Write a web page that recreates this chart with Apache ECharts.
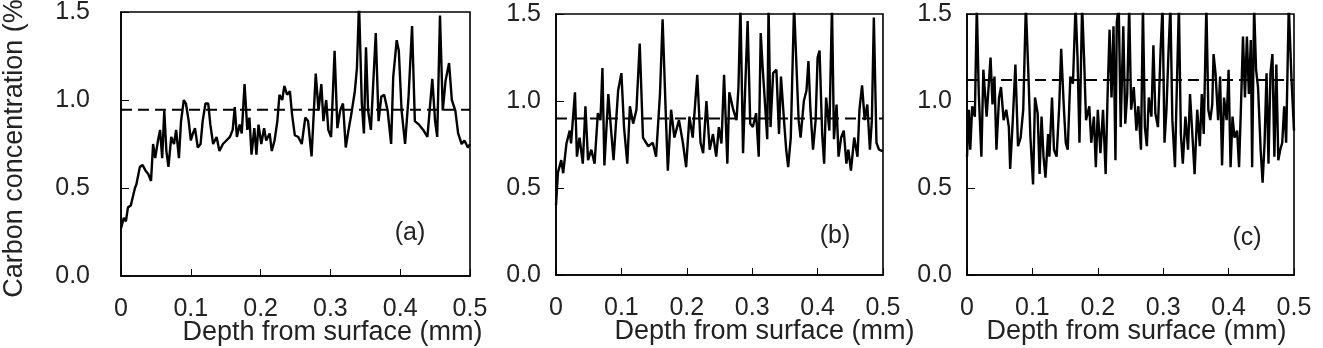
<!DOCTYPE html>
<html>
<head>
<meta charset="utf-8">
<script src="https://cdn.jsdelivr.net/npm/echarts@6/dist/echarts.min.js"></script>
<style>
  html, body { margin: 0; padding: 0; background: #fff; }
  #chart { width: 1323px; height: 348px; }
</style>
</head>
<body>
<div id="chart"></div>
<script>
// depth (mm), carbon (%)
var profileA = [
  [0,0.27],[0.004,0.33],[0.007,0.31],[0.010,0.39],[0.014,0.40],[0.017,0.45],[0.020,0.50],[0.022,0.52],
  [0.025,0.58],[0.027,0.62],[0.031,0.63],[0.035,0.60],[0.039,0.58],[0.043,0.54],[0.046,0.75],[0.049,0.67],
  [0.053,0.77],[0.056,0.83],[0.059,0.67],[0.062,0.94],[0.065,0.71],[0.068,0.62],[0.072,0.79],[0.076,0.75],
  [0.079,0.83],[0.083,0.67],[0.086,0.88],[0.090,1.00],[0.093,0.98],[0.097,0.88],[0.100,0.77],[0.103,0.81],
  [0.106,0.84],[0.110,0.73],[0.114,0.75],[0.117,0.88],[0.121,0.98],[0.125,0.98],[0.128,0.86],[0.132,0.75],
  [0.137,0.79],[0.141,0.71],[0.146,0.75],[0.151,0.77],[0.156,0.79],[0.160,0.83],[0.163,0.96],[0.166,0.79],
  [0.170,0.86],[0.173,0.81],[0.177,1.09],[0.181,0.83],[0.184,0.90],[0.187,0.69],[0.191,0.84],[0.194,0.69],
  [0.197,0.86],[0.201,0.75],[0.205,0.84],[0.208,0.77],[0.213,0.81],[0.216,0.71],[0.220,0.77],[0.224,0.88],
  [0.227,1.03],[0.231,1.00],[0.234,1.08],[0.238,1.03],[0.242,1.05],[0.245,0.92],[0.249,0.80],[0.254,0.79],
  [0.259,0.75],[0.264,0.90],[0.268,0.88],[0.273,0.68],[0.279,1.15],[0.283,0.94],[0.287,1.09],[0.290,0.88],
  [0.294,1.00],[0.297,0.83],[0.301,0.79],[0.306,1.28],[0.310,0.84],[0.314,0.94],[0.318,0.98],[0.322,0.73],
  [0.326,0.83],[0.330,0.92],[0.335,1.05],[0.338,1.18],[0.341,1.55],[0.345,0.98],[0.348,0.81],[0.351,1.30],
  [0.354,0.94],[0.358,0.83],[0.365,1.38],[0.369,0.88],[0.373,1.02],[0.377,1.03],[0.382,0.94],[0.387,0.75],
  [0.390,1.13],[0.395,1.34],[0.398,1.28],[0.402,0.94],[0.407,0.75],[0.412,1.02],[0.417,1.42],[0.421,0.88],
  [0.427,0.86],[0.433,0.83],[0.439,0.79],[0.446,1.12],[0.450,0.88],[0.453,0.79],[0.457,1.48],[0.461,0.94],
  [0.465,1.11],[0.470,1.21],[0.474,1.00],[0.479,0.94],[0.483,0.81],[0.488,0.75],[0.492,0.77],[0.497,0.73],
  [0.500,0.75]
];

var profileB = [
  [0,0.40],[0.003,0.59],[0.008,0.66],[0.011,0.585],[0.016,0.756],[0.021,0.83],[0.023,0.756],[0.029,1.05],
  [0.032,0.68],[0.036,0.79],[0.041,0.64],[0.045,0.97],[0.049,0.66],[0.054,0.72],[0.059,0.64],[0.064,0.93],
  [0.068,0.89],[0.071,1.19],[0.074,0.63],[0.080,1.04],[0.083,0.89],[0.088,0.66],[0.095,1.06],[0.100,1.16],
  [0.104,0.85],[0.109,0.64],[0.113,0.97],[0.118,0.87],[0.123,0.95],[0.128,1.33],[0.133,0.79],[0.141,0.74],
  [0.148,0.76],[0.153,0.68],[0.159,1.04],[0.163,1.47],[0.168,0.91],[0.171,0.60],[0.176,0.95],[0.181,0.79],
  [0.188,0.89],[0.194,0.76],[0.199,0.62],[0.204,0.91],[0.209,0.79],[0.216,1.15],[0.221,0.76],[0.225,0.70],
  [0.230,1.00],[0.235,0.72],[0.240,0.81],[0.245,0.68],[0.249,0.85],[0.253,0.756],[0.257,1.15],[0.262,0.64],
  [0.265,1.05],[0.271,0.95],[0.276,0.89],[0.279,1.08],[0.282,1.55],[0.286,0.70],[0.289,1.04],[0.293,1.46],
  [0.297,0.87],[0.301,0.85],[0.306,0.93],[0.310,0.68],[0.313,1.39],[0.316,1.19],[0.319,1.02],[0.323,0.78],
  [0.325,1.55],[0.328,0.85],[0.332,1.16],[0.337,1.18],[0.341,0.81],[0.344,1.14],[0.349,0.87],[0.352,0.72],
  [0.355,0.62],[0.359,0.79],[0.364,1.55],[0.367,1.55],[0.371,0.89],[0.374,0.79],[0.379,1.00],[0.383,1.06],
  [0.386,1.23],[0.389,0.95],[0.393,0.72],[0.397,0.89],[0.400,1.25],[0.403,1.29],[0.407,0.81],[0.410,0.64],
  [0.413,1.02],[0.418,0.83],[0.422,1.55],[0.425,0.78],[0.429,0.98],[0.432,0.68],[0.436,0.79],[0.440,0.83],
  [0.444,0.64],[0.447,0.72],[0.451,0.60],[0.456,0.79],[0.461,0.68],[0.464,0.95],[0.468,1.09],[0.472,0.89],
  [0.476,0.98],[0.480,0.72],[0.483,0.89],[0.486,1.48],[0.490,0.76],[0.494,0.72],[0.497,0.71],[0.500,0.71]
];

var profileC = [
  [0,0.68],[0.003,0.95],[0.005,0.72],[0.008,0.97],[0.012,0.91],[0.015,1.55],[0.018,1.04],[0.022,0.68],
  [0.025,1.18],[0.030,0.91],[0.033,1.08],[0.036,1.25],[0.039,0.98],[0.042,1.14],[0.045,0.72],[0.049,1.02],
  [0.052,1.08],[0.056,0.89],[0.060,0.95],[0.064,0.85],[0.066,0.61],[0.070,0.89],[0.074,1.21],[0.078,0.74],
  [0.082,0.79],[0.086,0.95],[0.090,1.55],[0.094,1.14],[0.097,0.79],[0.101,0.52],[0.104,1.02],[0.108,0.93],
  [0.111,0.58],[0.114,0.91],[0.117,0.68],[0.120,0.56],[0.124,0.81],[0.126,0.68],[0.130,1.02],[0.133,0.72],
  [0.137,0.68],[0.141,0.97],[0.144,1.30],[0.148,0.97],[0.151,0.76],[0.154,0.72],[0.158,1.14],[0.162,1.10],
  [0.166,1.55],[0.169,1.25],[0.172,0.76],[0.176,1.55],[0.179,1.25],[0.182,0.89],[0.187,0.97],[0.190,0.76],
  [0.194,0.91],[0.197,0.62],[0.200,0.95],[0.204,0.70],[0.208,0.95],[0.212,0.58],[0.215,1.04],[0.218,1.41],
  [0.221,1.02],[0.224,1.43],[0.227,0.66],[0.229,1.45],[0.232,1.55],[0.235,0.85],[0.239,1.43],[0.242,0.87],
  [0.245,1.04],[0.248,1.55],[0.251,0.95],[0.255,1.08],[0.259,0.83],[0.262,0.97],[0.266,0.72],[0.269,1.55],
  [0.272,0.85],[0.275,0.74],[0.278,1.02],[0.282,0.91],[0.285,1.32],[0.288,0.93],[0.292,0.85],[0.296,1.29],
  [0.299,1.55],[0.302,0.76],[0.305,0.95],[0.308,1.27],[0.311,1.55],[0.314,0.89],[0.318,0.62],[0.320,0.95],
  [0.324,1.55],[0.327,0.81],[0.330,0.64],[0.334,0.91],[0.338,0.72],[0.341,1.04],[0.345,0.78],[0.348,0.58],
  [0.352,0.95],[0.356,0.74],[0.359,1.04],[0.362,0.81],[0.366,1.55],[0.369,0.95],[0.372,0.89],[0.375,0.98],
  [0.377,1.27],[0.380,1.16],[0.384,0.89],[0.387,1.14],[0.390,0.63],[0.393,1.02],[0.397,0.89],[0.400,1.18],
  [0.403,0.62],[0.406,0.91],[0.409,0.79],[0.413,0.83],[0.416,0.62],[0.419,0.98],[0.422,1.37],[0.425,1.02],
  [0.428,1.37],[0.431,1.04],[0.434,1.35],[0.436,0.62],[0.439,1.55],[0.442,1.18],[0.445,1.08],[0.449,0.72],
  [0.452,0.53],[0.455,0.76],[0.458,1.16],[0.461,0.64],[0.464,1.16],[0.467,1.27],[0.470,0.68],[0.473,1.21],
  [0.476,0.66],[0.479,0.72],[0.482,0.76],[0.485,0.97],[0.488,0.76],[0.492,1.55],[0.496,1.14],[0.500,0.83]
];

// dashed reference level of each panel
var levels = [0.945, 0.90, 1.12];
var panelTags = ['(a)', '(b)', '(c)'];
var xTitle = 'Depth from surface (mm)';
var yTitle = 'Carbon concentration (%)';

var myChart = echarts.init(document.getElementById('chart'), null, { renderer: 'canvas' });

var FONT = '"Liberation Sans", Arial, sans-serif';
var TXT = '#222';

var grids = [
  { left: 121, top: 12, width: 349, height: 264 },
  { left: 556, top: 14, width: 327, height: 261 },
  { left: 967, top: 14, width: 327, height: 261 }
];
var yLabelMargin = [31, 15, 15];
var xNameShift = [37, 45, 6];
var tagPos = [[410, 233], [835, 236], [1247, 238]];

var xAxes = [], yAxes = [], series = [], texts = [];
var profiles = [profileA, profileB, profileC];

for (var i = 0; i < 3; i++) {
  grids[i].show = true;
  grids[i].borderColor = '#000';
  grids[i].borderWidth = 1.6;
  grids[i].containLabel = false;
  grids[i].outerBoundsMode = 'none';

  xAxes.push({
    type: 'value', gridIndex: i, min: 0, max: 0.5, interval: 0.1,
    name: xTitle, nameLocation: 'middle', nameGap: 43, nameMoveOverlap: false,
    nameTextStyle: { fontFamily: FONT, fontSize: 27, color: TXT, padding: [0, 0, 0, xNameShift[i] * 2] },
    axisLine: { show: true, lineStyle: { color: '#000', width: 1.6 } },
    axisTick: { show: true, inside: true, length: 7, lineStyle: { color: '#000', width: 1 } },
    axisLabel: { fontFamily: FONT, fontSize: 25, color: TXT, margin: 21 },
    splitLine: { show: false }
  });

  yAxes.push({
    type: 'value', gridIndex: i, min: 0, max: 1.5, interval: 0.5,
    name: i === 0 ? yTitle : '', nameLocation: 'middle', nameGap: 93, nameMoveOverlap: false,
    nameTextStyle: { fontFamily: FONT, fontSize: 27, color: TXT },
    axisLine: { show: true, lineStyle: { color: '#000', width: 1.6 } },
    axisTick: { show: true, inside: true, length: 8, lineStyle: { color: '#000', width: 1 } },
    axisLabel: {
      fontFamily: FONT, fontSize: 25, color: TXT, margin: yLabelMargin[i],
      formatter: function (v) { return v.toFixed(1); }
    },
    splitLine: { show: false }
  });

  series.push({
    type: 'line', xAxisIndex: i, yAxisIndex: i,
    data: profiles[i], showSymbol: false, symbol: 'none', clip: true,
    lineStyle: { color: '#000', width: 2.4 }
  });

  series.push({
    type: 'line', xAxisIndex: i, yAxisIndex: i,
    data: [[0, levels[i]], [0.5, levels[i]]], showSymbol: false, symbol: 'none',
    lineStyle: { color: '#000', width: 2, type: [11, 6] }
  });

  texts.push({
    type: 'text', x: tagPos[i][0], y: tagPos[i][1],
    style: { text: panelTags[i], font: '25px ' + FONT, fill: TXT, textAlign: 'center', textVerticalAlign: 'middle' }
  });
}

myChart.setOption({
  animation: false,
  backgroundColor: '#fff',
  grid: grids,
  xAxis: xAxes,
  yAxis: yAxes,
  series: series,
  graphic: texts
});
</script>
</body>
</html>
